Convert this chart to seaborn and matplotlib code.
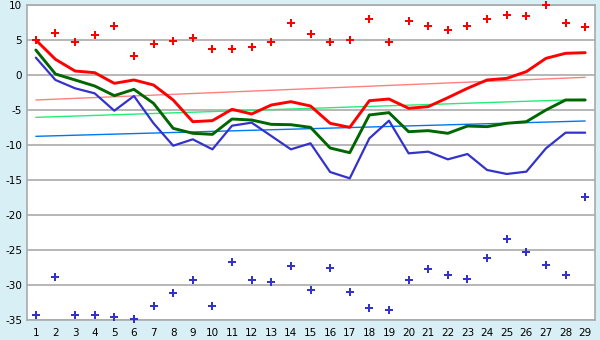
import numpy as np
import pandas as pd
import matplotlib
matplotlib.use('Agg')
import matplotlib.pyplot as plt
import seaborn as sns

days = list(range(1, 30))

red_line = [5.0, 2.24, 0.57, 0.33, -1.19, -0.71, -1.43, -3.57, -6.67, -6.52,
            -4.9, -5.57, -4.29, -3.81, -4.43, -6.9, -7.48, -3.67, -3.43, -4.76,
            -4.52, -3.24, -1.9, -0.71, -0.48, 0.48, 2.38, 3.1, 3.19]
green_line = [3.57, 0.14, -0.71, -1.57, -2.95, -2.05, -4.05, -7.62, -8.33, -8.48,
              -6.29, -6.43, -7.05, -7.1, -7.48, -10.43, -11.1, -5.71, -5.38, -8.1,
              -7.95, -8.33, -7.29, -7.38, -6.9, -6.67, -5.0, -3.57, -3.57]
blue_line = [2.48, -0.71, -1.9, -2.62, -5.1, -3.0, -6.9, -10.1, -9.19, -10.62,
             -7.24, -6.81, -8.71, -10.62, -9.76, -13.86, -14.76, -9.05, -6.52, -11.19,
             -10.95, -12.05, -11.29, -13.57, -14.14, -13.81, -10.48, -8.24, -8.24]
red_points = [5.0, 5.95, 4.67, 5.67, 6.95, 2.67, 4.38, 4.81, 5.24, 3.67,
              3.67, 3.95, 4.67, 7.38, 5.81, 4.67, 4.95, 7.95, 4.67, 7.67,
              7.0, 6.38, 7.0, 7.95, 8.52, 8.43, 10.0, 7.38, 6.81]
blue_points = [-34.33, -28.9, -34.33, -34.33, -34.57, -34.86, -33.05, -31.19, -29.33, -33.05,
               -26.76, -29.33, -29.62, -27.33, -30.76, -27.62, -31.05, -33.29, -33.62, -29.33,
               -27.76, -28.62, -29.19, -26.19, -23.48, -25.33, -27.19, -28.62, -17.48]

# trend lines: values at first and last day
trend_days = [1, 29]
red_trend = [-3.57, -0.33]
green_trend = [-6.05, -3.48]
blue_trend = [-8.76, -6.57]

y_ticks = list(range(-35, 11, 5))

df = pd.DataFrame({'day': days, 'red': red_line, 'green': green_line, 'blue': blue_line,
                   'red_pts': red_points, 'blue_pts': blue_points})
trend = pd.DataFrame({'day': trend_days, 'red': red_trend, 'green': green_trend, 'blue': blue_trend})

sns.set_style('white')
plt.rcParams['font.family'] = ['DejaVu Sans']
bg = '#d9eff6'
fig = plt.figure(figsize=(6, 3.4), dpi=100, facecolor=bg)
ax = fig.add_axes([27 / 600, 1 - 320 / 340, 568 / 600, 315 / 340])
ax.set_facecolor('white')

for y in y_ticks:
    ax.axhline(y, color='#aaaaaa', lw=1.2, zorder=0)

sns.lineplot(data=trend, x='day', y='red', color='#ff8080', lw=1, ax=ax)
sns.lineplot(data=trend, x='day', y='green', color='#22ee77', lw=1, ax=ax)
sns.lineplot(data=trend, x='day', y='blue', color='#0077ee', lw=1, ax=ax)

sns.lineplot(data=df, x='day', y='blue', color='#3333cc', lw=1.6, ax=ax)
sns.lineplot(data=df, x='day', y='green', color='#006600', lw=2.1, ax=ax)
sns.lineplot(data=df, x='day', y='red', color='#ff0000', lw=2.1, ax=ax)

sns.scatterplot(data=df, x='day', y='red_pts', color='#ff0000', marker='P', s=32,
                linewidth=0, ax=ax, zorder=5, clip_on=False)
sns.scatterplot(data=df, x='day', y='blue_pts', color='#3333cc', marker='P', s=28,
                linewidth=0, ax=ax, zorder=5, clip_on=False)

ax.set_xlim(0.55, 29.5)
ax.set_ylim(-35, 10)
ax.set_xticks(days)
ax.set_yticks(y_ticks)
ax.set_yticklabels([str(v) for v in y_ticks])
ax.set_xlabel('')
ax.set_ylabel('')
ax.tick_params(axis='x', labelsize=7.5, colors='black', length=5, width=1, pad=1)
ax.tick_params(axis='y', labelsize=7.5, colors='black', length=2, width=1, pad=1.5)
for side in ['left', 'right', 'top', 'bottom']:
    ax.spines[side].set_color('#aaaaaa')
    ax.spines[side].set_linewidth(1.2)

plt.savefig('out.png', facecolor=bg)
